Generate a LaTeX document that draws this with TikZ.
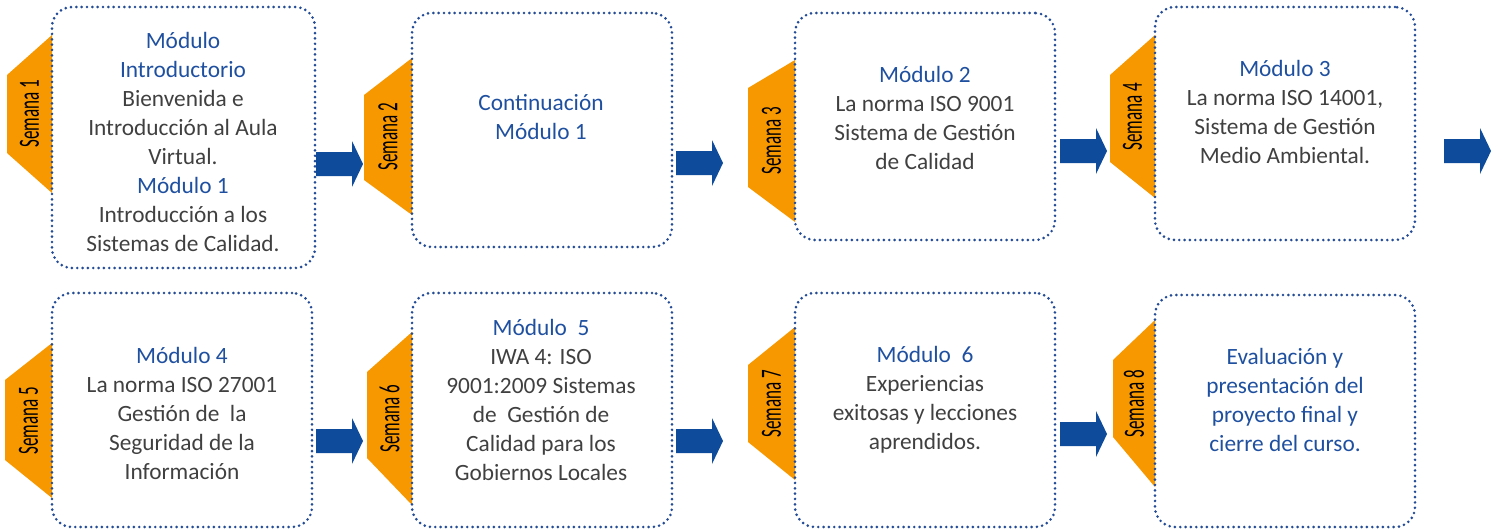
\documentclass[tikz,border=0pt]{standalone}
\usepackage{fontspec}
\setmainfont{Carlito}
\newfontfamily\semfont[FakeStretch=0.58]{Carlito}
\usepackage{tikz}
\usetikzlibrary{fit}

\definecolor{modblue}{RGB}{31,80,160}
\definecolor{txtgray}{RGB}{64,64,64}
\definecolor{taborange}{RGB}{247,152,0}
\definecolor{arrowblue}{RGB}{14,75,155}
\definecolor{dotblue}{RGB}{35,75,150}

\newcommand{\hd}[1]{\textcolor{modblue}{#1}}
% block arrow: name, left x, middle y
\newcommand{\blockarrow}[3]{%
  \coordinate (#1) at (#2,#3);
  \fill[arrowblue] (#1) ++(0,-12) -- ++(36,0) -- ++(0,-11) -- ++(11,23)
    -- ++(-11,23) -- ++(0,-11) -- ++(-36,0) -- cycle;}
% orange week tab: name, left x, right x, top, left top, left bottom, bottom, text
\newcommand{\weektab}[8]{%
  \fill[taborange] (#3,#4) -- (#2,#5) -- (#2,#6) -- (#3,#7) -- cycle;
  \node[semlabel] (#1) at ({(#2+#3)/2},{(#4+#7)/2}) {#8};}

\begin{document}
\begin{tikzpicture}[x=0.75pt,y=-0.75pt,
  modbox/.style={draw=dotblue,line width=2.2pt,dash pattern=on 0pt off 4pt,
    line cap=round,rounded corners=15pt,inner sep=0pt},
  modtext/.style={align=center,text=txtgray,
    font=\fontsize{17.5pt}{21.75pt}\selectfont},
  semlabel/.style={rotate=90,text=black,inner sep=0pt,
    font=\semfont\fontsize{22pt}{22pt}\selectfont}]
\useasboundingbox (0,0) rectangle (1502,529);

% tabs
\weektab{s1}{7}{52}{35}{75}{153}{193}{Semana 1}
\weektab{s2}{364}{412}{58}{95}{180}{215}{Semana 2}
\weektab{s3}{748}{795}{60}{88}{187}{222}{Semana 3}
\weektab{s4}{1110}{1155}{35}{75}{162}{198}{Semana 4}
\weektab{s5}{5}{52}{343}{380}{460}{498}{Semana 5}
\weektab{s6}{367}{412}{332}{372}{458}{505}{Semana 6}
\weektab{s7}{748}{795}{327}{365}{442}{480}{Semana 7}
\weektab{s8}{1113}{1155}{320}{360}{437}{487}{Semana 8}

% boxes
\node[modbox,fit={(52,7) (315,268)}] (b1) {};
\node[modbox,fit={(412,13) (672,247)}] (b2) {};
\node[modbox,fit={(795,13) (1055,240)}] (b3) {};
\node[modbox,fit={(1155,7) (1415,240)}] (b4) {};
\node[modbox,fit={(52,293) (312,527)}] (b5) {};
\node[modbox,fit={(412,293) (672,527)}] (b6) {};
\node[modbox,fit={(795,293) (1055,527)}] (b7) {};
\node[modbox,fit={(1155,295) (1415,527)}] (b8) {};

% texts
\node[modtext] (m1) at (183,142) {\hd{Módulo}\\\hd{Introductorio}\\Bienvenida e\\Introducción al Aula\\Virtual.\\\hd{Módulo 1}\\Introducción a los\\Sistemas de Calidad.};
\node[modtext] (m2) at (541,117) {\hd{Continuación}\\\hd{Módulo 1}};
\node[modtext] (m3) at (925,118) {\hd{Módulo 2}\\La norma ISO 9001\\Sistema de Gestión\\de Calidad};
\node[modtext] (m4) at (1285,112) {\hd{Módulo 3}\\La norma ISO 14001,\\Sistema de Gestión\\Medio Ambiental.};
\node[modtext] (m5) at (182,413) {\hd{Módulo 4}\\La norma ISO 27001\\Gestión de\ \ la\\Seguridad de la\\Información};
\node[modtext] (m6) at (541,400) {\hd{Módulo\ \ 5}\\IWA 4: ISO\\9001:2009 Sistemas\\de\ \ Gestión de\\Calidad para los\\Gobiernos Locales};
\node[modtext] (m7) at (925,400) {\hd{Módulo\ \ 6}\\Experiencias\\exitosas y lecciones\\aprendidos.};
\node[modtext] (m8) at (1285,400) {\hd{Evaluación y}\\\hd{presentación del}\\\hd{proyecto final y}\\\hd{cierre del curso.}};

% arrows
\blockarrow{a1}{316}{164}
\blockarrow{a2}{676}{163}
\blockarrow{a3}{1060}{151}
\blockarrow{a4}{1444}{151}
\blockarrow{a5}{316}{441}
\blockarrow{a6}{676}{441}
\blockarrow{a7}{1060}{434}
\end{tikzpicture}
\end{document}
